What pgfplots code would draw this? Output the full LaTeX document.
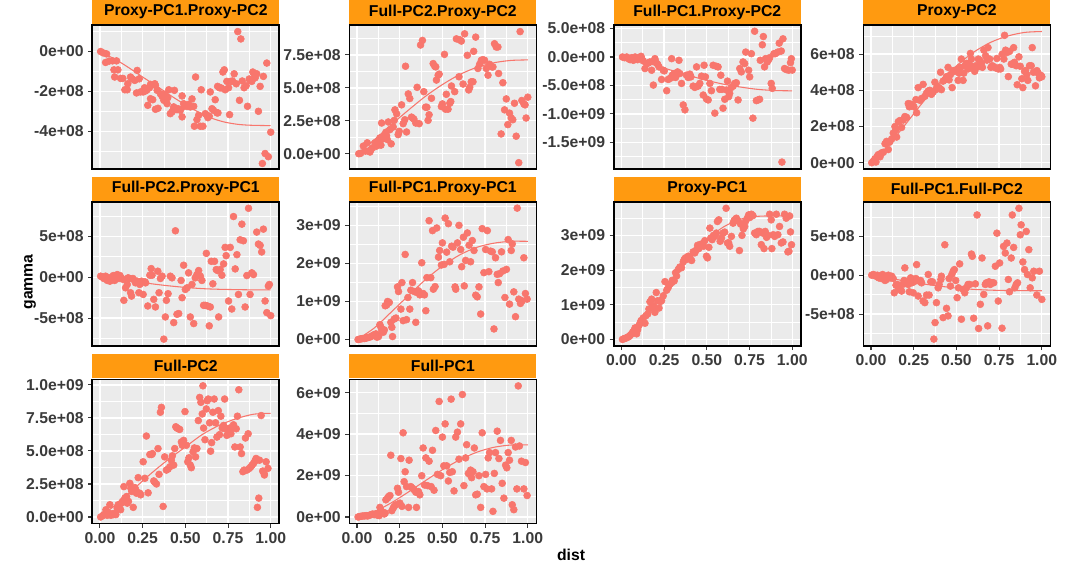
\documentclass[border=0pt]{standalone}
\usepackage{pgfplots}
\pgfplotsset{compat=1.18}
\usepackage{fontspec}
\setmainfont{Liberation Sans}
\definecolor{ptcol}{HTML}{F8766D}
\definecolor{stripcol}{HTML}{FF9A10}
\definecolor{panelbg}{HTML}{EBEBEB}
\definecolor{tickgray}{HTML}{3A3A3A}
\newcommand{\fs}{\fontsize{11.8}{14}\selectfont\bfseries}

\pgfplotsset{
  panel/.style={
    scale only axis, width=140.25pt, height=108.2pt, anchor=north west,
    xmin=-0.045, xmax=1.05,
    axis background/.style={fill=panelbg},
    axis line style={black, line width=1.1pt},
    grid=both,
    major grid style={white, line width=1pt},
    minor grid style={white, line width=0.45pt},
    xtick={0,0.25,0.5,0.75,1},
    minor xtick={0.125,0.375,0.625,0.875},
    tick pos=left, tick align=outside,
    major tick length=3pt, minor tick length=0pt,
    tick style={color=tickgray, line width=0.8pt},
    tick label style={font=\fs, text=tickgray},
    xticklabels={},
    every axis title/.style={at={(0.5,1)}, anchor=south, yshift=0.55pt,
      fill=stripcol, minimum width=140.25pt, minimum height=18pt,
      inner sep=0pt, font=\fs, text=black},
    after end axis/.code={\draw[black, line width=1.2pt] (rel axis cs:0,0) rectangle (rel axis cs:1,1);},
  },
  noxt/.style={xmajorticks=false},
  xlab/.style={xticklabels={0.00,0.25,0.50,0.75,1.00}},
  pts/.style={only marks, mark=*, mark size=2.6pt, color=ptcol},
  fit/.style={no marks, color=ptcol, line width=0.8pt, smooth},
}

\begin{document}
\begin{tikzpicture}
\path[use as bounding box] (0,0) rectangle (799.5pt,-425.25pt);

% Proxy-PC1.Proxy-PC2
\begin{axis}[panel, noxt, at={(69.2pt,-18.75pt)}, title={Proxy-PC1.Proxy-PC2},
  ymin=-5.91, ymax=1.33, ytick={-4,-2,0}, yticklabels={-4e+08,-2e+08,0e+00},
  minor ytick={-5,-3,-1,1}]
\addplot[pts] coordinates {(0.004,0.00)(0.019,-0.07)(0.039,-0.12)(0.033,-0.55)(0.054,-0.48)(0.074,-0.47)(0.097,-0.47)(0.082,-0.92)(0.105,-0.92)(0.086,-1.28)(0.121,-1.35)(0.134,-1.35)(0.146,-1.92)(0.160,-1.92)(0.163,-1.62)(0.179,-1.28)(0.189,-1.38)(0.204,-1.45)(0.218,-0.95)(0.214,-2.08)(0.237,-2.03)(0.230,-1.37)(0.253,-2.03)(0.267,-1.98)(0.276,-1.92)(0.261,-1.82)(0.290,-1.82)(0.296,-1.65)(0.280,-2.70)(0.296,-2.37)(0.309,-2.42)(0.325,-1.70)(0.321,-1.62)(0.335,-1.95)(0.325,-2.90)(0.340,-2.85)(0.354,-2.12)(0.364,-2.25)(0.374,-2.45)(0.379,-2.15)(0.383,-2.42)(0.393,-2.62)(0.397,-2.32)(0.412,-3.12)(0.422,-3.03)(0.428,-2.95)(0.432,-2.78)(0.403,-1.92)(0.436,-1.95)(0.451,-2.92)(0.457,-2.87)(0.481,-3.28)(0.471,-2.95)(0.481,-2.23)(0.490,-2.62)(0.494,-2.75)(0.510,-2.75)(0.519,-2.65)(0.529,-2.78)(0.539,-2.38)(0.549,-2.75)(0.553,-3.75)(0.560,-1.28)(0.568,-3.42)(0.578,-3.20)(0.588,-3.75)(0.593,-1.92)(0.603,-3.75)(0.617,-3.12)(0.626,-3.20)(0.632,-3.32)(0.640,-3.25)(0.646,-2.03)(0.656,-2.87)(0.665,-2.95)(0.675,-2.42)(0.685,-3.08)(0.691,-3.08)(0.689,-1.75)(0.700,-1.82)(0.710,-1.83)(0.720,-1.03)(0.728,-0.92)(0.733,-1.92)(0.743,-1.50)(0.753,-1.82)(0.759,-3.17)(0.767,-1.50)(0.776,-1.48)(0.786,-1.12)(0.798,-1.62)(0.807,1.00)(0.817,-2.45)(0.825,0.63)(0.833,-1.48)(0.844,-1.82)(0.856,-1.72)(0.864,-2.75)(0.874,-1.38)(0.879,-1.45)(0.889,-1.50)(0.895,-1.03)(0.903,-1.12)(0.909,-1.32)(0.918,-1.12)(0.928,-3.00)(0.938,-1.75)(0.951,-5.62)(0.957,-1.25)(0.967,-5.12)(0.977,-0.58)(0.986,-5.28)(1.000,-4.05)};
\addplot[fit] coordinates {(0,0)(0.101,-0.45)(0.179,-0.87)(0.257,-1.32)(0.335,-1.75)(0.412,-2.20)(0.490,-2.62)(0.568,-3.00)(0.646,-3.32)(0.724,-3.53)(0.802,-3.65)(0.879,-3.70)(1.0,-3.72)};
\end{axis}

% Full-PC2.Proxy-PC2
\begin{axis}[panel, noxt, at={(262.0pt,-18.75pt)}, title={Full-PC2.Proxy-PC2},
  ymin=-1.18, ymax=9.77, ytick={0,2.5,5,7.5}, yticklabels={0.0e+00,2.5e+08,5.0e+08,7.5e+08},
  minor ytick={1.25,3.75,6.25,8.75}]
\addplot[pts] coordinates {(0.010,0.00)(0.021,0.03)(0.037,0.58)(0.049,0.20)(0.060,0.83)(0.066,0.20)(0.076,0.13)(0.082,0.33)(0.091,0.45)(0.105,0.83)(0.115,0.58)(0.125,0.95)(0.134,1.20)(0.140,0.65)(0.144,2.33)(0.150,1.13)(0.158,1.33)(0.169,1.63)(0.173,1.38)(0.177,1.08)(0.183,2.41)(0.193,1.83)(0.200,0.75)(0.212,2.03)(0.218,2.53)(0.222,3.33)(0.232,3.03)(0.241,1.45)(0.247,1.70)(0.261,3.71)(0.270,2.28)(0.280,2.58)(0.284,6.64)(0.290,1.65)(0.300,4.54)(0.309,4.19)(0.319,2.78)(0.325,2.71)(0.333,2.63)(0.344,2.33)(0.352,5.04)(0.364,2.28)(0.372,8.25)(0.383,8.60)(0.391,4.71)(0.401,3.53)(0.409,3.53)(0.416,2.53)(0.422,2.96)(0.436,4.21)(0.446,6.84)(0.455,6.64)(0.461,6.59)(0.465,5.59)(0.475,5.96)(0.481,6.04)(0.494,3.58)(0.500,3.78)(0.512,7.54)(0.518,3.38)(0.523,4.51)(0.533,3.38)(0.543,3.83)(0.549,3.96)(0.553,5.14)(0.572,4.71)(0.582,8.72)(0.597,5.84)(0.601,8.65)(0.611,8.55)(0.621,5.29)(0.630,9.10)(0.646,7.47)(0.654,4.84)(0.660,5.04)(0.669,5.46)(0.679,5.46)(0.683,7.77)(0.695,8.85)(0.708,6.47)(0.718,6.79)(0.728,7.09)(0.737,7.14)(0.747,7.09)(0.757,6.47)(0.767,5.96)(0.776,6.79)(0.790,6.59)(0.796,6.59)(0.805,8.35)(0.815,8.10)(0.825,8.10)(0.829,6.09)(0.844,1.50)(0.854,5.39)(0.864,3.33)(0.874,4.16)(0.883,2.21)(0.893,3.08)(0.903,2.71)(0.912,2.58)(0.922,3.83)(0.932,1.33)(0.947,-0.68)(0.955,9.27)(0.965,4.04)(0.977,3.78)(0.984,3.71)(0.990,2.71)(1.000,4.29)};
\addplot[fit] coordinates {(0,0)(0.1,1.05)(0.2,2.2)(0.3,3.3)(0.4,4.35)(0.5,5.25)(0.6,6.0)(0.7,6.55)(0.8,6.9)(0.9,7.08)(1.0,7.12)};
\end{axis}

% Full-PC1.Proxy-PC2
\begin{axis}[panel, noxt, at={(460.3pt,-18.75pt)}, title={Full-PC1.Proxy-PC2},
  ymin=-19.75, ymax=5.63, ytick={-15,-10,-5,0,5},
  yticklabels={-1.5e+09,-1.0e+09,-5.0e+08,0.0e+00,5.0e+08},
  minor ytick={-17.5,-12.5,-7.5,-2.5,2.5}]
\addplot[pts] coordinates {(0.006,0.00)(0.018,-0.12)(0.031,0.00)(0.041,-0.29)(0.051,-0.47)(0.060,-0.12)(0.070,-0.58)(0.080,0.00)(0.086,-0.29)(0.095,-0.47)(0.103,-0.12)(0.115,0.12)(0.119,-0.29)(0.128,-0.70)(0.138,-2.03)(0.148,-1.16)(0.158,-1.05)(0.167,-0.87)(0.177,-2.33)(0.187,-4.94)(0.196,-0.29)(0.202,-0.87)(0.212,-1.28)(0.220,-1.74)(0.235,-3.95)(0.245,-2.33)(0.251,-2.44)(0.265,-5.93)(0.274,-3.95)(0.284,-3.78)(0.294,-0.29)(0.298,-3.20)(0.304,-3.49)(0.309,-2.91)(0.317,-3.60)(0.329,-2.62)(0.337,-0.58)(0.342,-2.91)(0.352,-4.65)(0.362,-8.43)(0.372,-9.30)(0.381,-3.20)(0.391,-3.60)(0.401,-3.02)(0.407,-3.49)(0.420,-5.12)(0.430,-5.35)(0.440,-1.74)(0.449,-5.12)(0.459,-4.65)(0.469,-3.37)(0.479,-6.69)(0.484,-1.45)(0.492,-3.49)(0.498,-7.38)(0.508,-7.56)(0.518,-4.65)(0.527,-5.93)(0.537,-1.45)(0.547,-9.88)(0.556,-1.63)(0.566,-1.74)(0.576,-5.70)(0.582,-3.20)(0.589,-5.70)(0.595,-9.01)(0.605,-7.44)(0.615,-5.81)(0.621,-4.24)(0.628,-6.98)(0.634,-6.40)(0.644,-5.35)(0.654,-5.12)(0.663,-4.65)(0.673,-4.53)(0.683,-7.56)(0.693,-2.03)(0.702,-2.62)(0.712,-0.87)(0.722,-1.16)(0.728,0.87)(0.745,-2.33)(0.751,-3.49)(0.761,0.58)(0.770,-10.76)(0.780,4.53)(0.790,-7.67)(0.800,-7.56)(0.809,-7.44)(0.813,-0.58)(0.825,2.15)(0.831,3.60)(0.838,-1.74)(0.844,-0.29)(0.854,-0.87)(0.862,-0.47)(0.868,-0.12)(0.877,-4.65)(0.883,-5.52)(0.893,0.58)(0.901,0.58)(0.916,0.87)(0.924,2.44)(0.936,1.05)(0.946,3.20)(0.955,-2.03)(0.965,-2.21)(0.979,-2.33)(0.940,-18.49)(0.990,-1.00)(1.000,-2.30)(0.995,-0.30)};
\addplot[fit] coordinates {(0,0)(0.1,-0.6)(0.2,-1.5)(0.3,-2.4)(0.4,-3.3)(0.5,-4.1)(0.6,-4.8)(0.7,-5.3)(0.8,-5.7)(0.9,-5.9)(1.0,-5.95)};
\end{axis}

% Proxy-PC2
\begin{axis}[panel, noxt, at={(647.5pt,-18.75pt)}, title={Proxy-PC2},
  ymin=-0.36, ymax=7.61, ytick={0,2,4,6}, yticklabels={0e+00,2e+08,4e+08,6e+08},
  minor ytick={1,3,5,7}]
\addplot[pts] coordinates {(0.004,0.00)(0.014,0.09)(0.023,0.22)(0.029,0.04)(0.037,0.36)(0.043,0.45)(0.053,0.33)(0.062,0.55)(0.072,0.58)(0.082,1.05)(0.091,1.18)(0.101,0.73)(0.107,1.13)(0.111,1.18)(0.121,1.31)(0.130,1.64)(0.140,2.00)(0.146,1.82)(0.150,1.42)(0.160,2.27)(0.169,2.33)(0.179,1.95)(0.189,2.36)(0.198,2.55)(0.208,2.51)(0.218,3.27)(0.224,3.09)(0.232,3.24)(0.243,3.18)(0.251,3.09)(0.263,3.49)(0.267,2.76)(0.276,4.15)(0.286,3.45)(0.296,3.55)(0.305,4.33)(0.315,3.67)(0.325,3.85)(0.335,3.96)(0.340,3.96)(0.344,4.00)(0.354,3.78)(0.364,3.91)(0.374,4.45)(0.379,4.04)(0.387,4.22)(0.399,4.15)(0.407,5.00)(0.412,4.04)(0.422,4.51)(0.432,4.58)(0.442,4.76)(0.451,5.27)(0.457,4.58)(0.465,4.87)(0.475,4.15)(0.481,5.09)(0.490,5.05)(0.500,5.13)(0.510,4.55)(0.516,4.95)(0.523,5.27)(0.529,5.73)(0.539,4.55)(0.543,4.95)(0.551,5.36)(0.558,5.49)(0.568,5.18)(0.574,5.49)(0.582,6.04)(0.588,5.73)(0.597,5.27)(0.607,5.05)(0.613,5.36)(0.621,5.27)(0.628,5.73)(0.636,5.67)(0.646,5.49)(0.652,5.27)(0.661,6.22)(0.671,5.91)(0.679,5.67)(0.685,6.36)(0.695,5.73)(0.702,5.27)(0.710,5.36)(0.718,5.31)(0.730,5.24)(0.737,5.76)(0.745,5.18)(0.753,5.27)(0.759,5.18)(0.768,6.00)(0.778,5.73)(0.782,7.04)(0.788,6.22)(0.796,6.09)(0.804,4.76)(0.811,6.15)(0.821,5.45)(0.827,5.45)(0.835,6.36)(0.840,5.55)(0.850,5.36)(0.856,4.31)(0.866,5.85)(0.874,5.33)(0.883,4.64)(0.889,4.15)(0.899,5.05)(0.905,5.09)(0.912,4.87)(0.918,4.55)(0.928,5.36)(0.938,5.36)(0.944,6.36)(0.951,5.00)(0.963,4.25)(0.971,5.09)(0.979,4.95)(0.986,4.69)(0.996,4.82)(1.000,4.75)};
\addplot[fit] coordinates {(0,0)(0.1,0.95)(0.2,2.1)(0.3,3.3)(0.4,4.4)(0.5,5.35)(0.6,6.1)(0.7,6.65)(0.8,7.0)(0.9,7.2)(1.0,7.25)};
\end{axis}

% Full-PC2.Proxy-PC1
\begin{axis}[panel, noxt, at={(69.2pt,-151.3pt)}, title={Full-PC2.Proxy-PC1},
  ymin=-8.41, ymax=9.22, ytick={-5,0,5}, yticklabels={-5e+08,0e+00,5e+08},
  minor ytick={-7.5,-2.5,2.5,7.5}]
\addplot[pts] coordinates {(0.004,0.12)(0.014,0.00)(0.023,-0.16)(0.033,0.12)(0.043,-0.40)(0.053,-0.08)(0.058,-0.49)(0.066,-0.20)(0.078,0.20)(0.086,-0.40)(0.091,0.00)(0.101,0.32)(0.111,-0.16)(0.117,0.20)(0.125,-0.08)(0.136,-0.28)(0.140,-2.83)(0.150,-1.30)(0.160,-0.89)(0.165,-0.08)(0.173,-0.16)(0.179,-1.90)(0.185,-2.31)(0.193,-0.16)(0.202,-0.40)(0.208,-0.69)(0.218,-0.49)(0.228,-1.90)(0.233,-0.89)(0.243,-0.49)(0.253,-2.11)(0.263,-0.57)(0.267,-0.69)(0.280,-3.52)(0.292,0.24)(0.300,1.05)(0.305,0.24)(0.315,-2.71)(0.325,-3.64)(0.339,0.73)(0.346,-1.90)(0.354,-0.16)(0.364,0.12)(0.374,-7.57)(0.383,-4.86)(0.389,-2.83)(0.399,-2.02)(0.412,0.12)(0.422,-0.08)(0.432,-5.55)(0.442,5.67)(0.451,-4.53)(0.461,-4.45)(0.475,-0.40)(0.481,-2.51)(0.490,1.46)(0.500,-1.50)(0.510,-1.30)(0.519,0.53)(0.529,-4.86)(0.539,-0.89)(0.549,-5.67)(0.558,-0.08)(0.568,0.32)(0.578,0.81)(0.588,0.12)(0.597,-0.40)(0.607,-3.44)(0.617,-3.44)(0.623,2.91)(0.630,-3.52)(0.640,-5.95)(0.646,-3.64)(0.652,1.94)(0.661,-0.81)(0.671,1.94)(0.681,0.93)(0.689,0.81)(0.695,-4.86)(0.704,0.93)(0.714,0.24)(0.724,1.62)(0.733,3.64)(0.739,2.63)(0.753,-2.91)(0.763,3.64)(0.772,-3.89)(0.782,7.41)(0.792,1.01)(0.802,2.75)(0.811,-2.11)(0.821,4.57)(0.831,6.48)(0.840,4.45)(0.850,-3.64)(0.860,0.20)(0.870,8.42)(0.879,-2.11)(0.889,0.53)(0.899,0.32)(0.918,5.51)(0.928,4.05)(0.938,3.89)(0.947,3.08)(0.957,5.87)(0.967,-2.91)(0.977,-4.33)(0.986,-1.09)(1.000,-4.70)(0.992,-0.89)};
\addplot[fit] coordinates {(0,0)(0.1,-0.2)(0.2,-0.5)(0.3,-0.8)(0.4,-1.05)(0.5,-1.25)(0.6,-1.4)(0.7,-1.48)(0.8,-1.52)(0.9,-1.55)(1.0,-1.55)};
\end{axis}

% Full-PC1.Proxy-PC1
\begin{axis}[panel, noxt, at={(262.0pt,-151.3pt)}, title={Full-PC1.Proxy-PC1},
  ymin=-0.17, ymax=3.62, ytick={0,1,2,3}, yticklabels={0e+00,1e+09,2e+09,3e+09},
  minor ytick={0.5,1.5,2.5,3.5}]
\addplot[pts] coordinates {(0.006,0.000)(0.014,0.009)(0.023,0.017)(0.033,0.026)(0.043,0.026)(0.049,0.035)(0.056,0.043)(0.064,0.052)(0.072,0.061)(0.082,0.078)(0.091,0.104)(0.101,0.130)(0.111,0.148)(0.117,0.061)(0.126,0.078)(0.134,0.391)(0.140,0.322)(0.146,0.235)(0.154,0.191)(0.160,0.252)(0.165,0.887)(0.173,0.904)(0.179,1.000)(0.189,0.974)(0.198,0.452)(0.204,0.322)(0.208,0.078)(0.218,0.539)(0.228,0.565)(0.237,1.383)(0.243,1.261)(0.257,0.800)(0.263,1.496)(0.270,0.496)(0.282,2.235)(0.290,0.522)(0.298,1.104)(0.309,0.800)(0.315,1.296)(0.325,1.496)(0.335,1.261)(0.344,0.452)(0.350,1.235)(0.360,1.278)(0.368,1.174)(0.379,2.017)(0.387,1.209)(0.395,1.174)(0.403,0.757)(0.409,1.626)(0.422,3.122)(0.432,1.626)(0.442,2.861)(0.447,1.322)(0.457,1.391)(0.467,2.930)(0.477,2.165)(0.484,2.339)(0.494,1.957)(0.500,2.539)(0.510,1.974)(0.516,3.191)(0.525,2.296)(0.535,3.043)(0.543,2.043)(0.554,2.452)(0.562,2.426)(0.574,1.383)(0.578,1.322)(0.588,2.539)(0.597,3.000)(0.607,2.365)(0.613,1.913)(0.623,2.687)(0.628,1.409)(0.636,2.078)(0.646,2.800)(0.656,2.478)(0.665,2.043)(0.675,2.600)(0.685,2.339)(0.695,1.165)(0.704,1.122)(0.714,1.383)(0.724,0.670)(0.733,2.913)(0.743,1.757)(0.753,2.365)(0.763,2.861)(0.772,1.783)(0.782,2.322)(0.792,2.304)(0.802,0.278)(0.811,2.148)(0.821,1.713)(0.827,1.496)(0.835,1.730)(0.846,2.304)(0.854,1.800)(0.866,1.104)(0.875,1.843)(0.885,2.626)(0.893,0.930)(0.903,2.339)(0.909,2.513)(0.918,1.252)(0.928,0.600)(0.938,3.452)(0.947,1.061)(0.957,0.948)(0.967,1.017)(0.977,2.148)(0.986,1.209)(0.996,1.061)};
\addplot[fit] coordinates {(0,0)(0.1,0.3)(0.2,0.72)(0.3,1.15)(0.4,1.57)(0.5,1.93)(0.6,2.22)(0.7,2.42)(0.8,2.53)(0.9,2.58)(1.0,2.58)};
\end{axis}

% Proxy-PC1
\begin{axis}[panel, xlab, at={(460.3pt,-151.3pt)}, title={Proxy-PC1},
  ymin=-0.19, ymax=3.97, ytick={0,1,2,3}, yticklabels={0e+00,1e+09,2e+09,3e+09},
  minor ytick={0.5,1.5,2.5,3.5}]
\addplot[pts] coordinates {(0.006,0.000)(0.014,0.019)(0.021,0.029)(0.031,0.048)(0.037,0.067)(0.045,0.086)(0.051,0.114)(0.060,0.162)(0.066,0.210)(0.074,0.257)(0.080,0.333)(0.089,0.162)(0.095,0.276)(0.103,0.400)(0.109,0.467)(0.115,0.543)(0.123,0.495)(0.128,0.619)(0.138,0.467)(0.144,0.686)(0.154,0.733)(0.161,0.876)(0.167,1.086)(0.177,1.162)(0.181,0.943)(0.189,0.971)(0.196,0.781)(0.204,1.352)(0.212,1.114)(0.220,0.905)(0.228,1.095)(0.235,1.114)(0.245,1.257)(0.255,1.667)(0.265,1.419)(0.274,1.495)(0.284,1.590)(0.294,1.638)(0.298,1.705)(0.309,1.686)(0.317,1.924)(0.323,1.829)(0.333,2.019)(0.342,2.086)(0.352,2.067)(0.362,2.238)(0.368,2.305)(0.375,2.352)(0.381,2.305)(0.391,2.400)(0.401,2.371)(0.411,2.276)(0.420,2.524)(0.430,2.495)(0.440,2.590)(0.446,2.714)(0.453,2.619)(0.459,2.733)(0.469,2.752)(0.475,2.714)(0.481,2.686)(0.488,2.848)(0.498,2.400)(0.504,2.352)(0.512,2.657)(0.518,3.210)(0.523,2.924)(0.531,2.876)(0.539,3.000)(0.547,2.971)(0.556,3.067)(0.562,3.400)(0.570,3.448)(0.578,2.829)(0.586,2.924)(0.595,3.067)(0.605,3.095)(0.613,3.781)(0.621,2.781)(0.628,2.781)(0.634,2.686)(0.644,2.971)(0.654,3.352)(0.660,3.419)(0.663,3.448)(0.673,3.495)(0.683,3.419)(0.691,2.562)(0.698,3.324)(0.706,3.000)(0.714,3.190)(0.722,3.257)(0.728,3.419)(0.737,3.495)(0.745,3.590)(0.751,3.514)(0.761,3.610)(0.770,3.571)(0.780,3.067)(0.790,3.019)(0.800,3.114)(0.809,3.114)(0.819,2.733)(0.827,3.067)(0.835,2.619)(0.842,3.114)(0.850,2.943)(0.858,3.000)(0.868,3.610)(0.877,3.448)(0.881,2.619)(0.889,3.019)(0.897,2.971)(0.907,3.610)(0.916,3.019)(0.926,3.257)(0.936,2.781)(0.946,2.810)(0.955,3.610)(0.965,3.495)(0.975,2.524)(0.981,2.543)(0.990,3.100)(0.996,2.730)(0.985,3.560)};
\addplot[fit] coordinates {(0,0)(0.1,0.45)(0.2,1.05)(0.3,1.7)(0.4,2.35)(0.5,2.88)(0.6,3.25)(0.7,3.47)(0.8,3.55)(0.9,3.56)(1.0,3.56)};
\end{axis}

% Full-PC1.Full-PC2
\begin{axis}[panel, xlab, at={(647.5pt,-151.3pt)}, title={Full-PC1.Full-PC2},
  ymin=-9.1, ymax=9.44, ytick={-5,0,5}, yticklabels={-5e+08,0e+00,5e+08},
  minor ytick={-7.5,-2.5,2.5,7.5}]
\addplot[pts] coordinates {(0.004,0.00)(0.014,0.09)(0.023,-0.04)(0.029,-0.13)(0.037,0.00)(0.045,-0.34)(0.053,-0.13)(0.060,-0.43)(0.068,0.09)(0.076,-0.13)(0.082,-0.68)(0.091,-0.55)(0.101,0.00)(0.107,-0.26)(0.115,-0.34)(0.121,-0.13)(0.130,-0.43)(0.136,-2.26)(0.146,-1.28)(0.154,-1.19)(0.160,-1.62)(0.169,-1.83)(0.179,-2.04)(0.185,-1.19)(0.193,-0.68)(0.198,0.94)(0.204,-0.77)(0.212,-0.98)(0.218,-1.19)(0.224,-2.13)(0.232,-0.34)(0.239,-0.98)(0.247,-2.26)(0.251,-0.85)(0.257,-0.55)(0.263,-0.43)(0.267,1.36)(0.276,-2.68)(0.282,-0.77)(0.290,-0.68)(0.296,-0.98)(0.305,-3.32)(0.315,-3.53)(0.325,-2.55)(0.335,0.09)(0.340,-2.55)(0.350,-0.85)(0.360,-0.85)(0.368,-8.21)(0.375,-6.09)(0.383,-3.53)(0.393,-1.62)(0.399,-1.19)(0.409,-0.55)(0.412,-0.13)(0.422,-5.45)(0.432,3.91)(0.442,-4.26)(0.451,-5.23)(0.457,-0.43)(0.465,-1.40)(0.473,0.09)(0.481,0.51)(0.488,0.72)(0.496,-0.68)(0.504,-2.89)(0.512,-1.62)(0.519,1.45)(0.529,-5.66)(0.539,-1.83)(0.549,-2.26)(0.558,-1.62)(0.568,-1.19)(0.578,-1.19)(0.588,2.72)(0.593,2.43)(0.601,-5.53)(0.611,-1.11)(0.621,7.74)(0.630,-6.85)(0.640,-3.74)(0.650,2.21)(0.660,-2.47)(0.669,-1.19)(0.675,-0.98)(0.683,-6.51)(0.691,-0.85)(0.698,-1.19)(0.708,-0.98)(0.718,-0.98)(0.728,1.15)(0.737,5.40)(0.745,-3.32)(0.753,1.57)(0.767,-6.81)(0.776,3.70)(0.786,2.85)(0.796,4.13)(0.804,-0.55)(0.811,-2.13)(0.821,2.21)(0.827,7.74)(0.835,3.57)(0.842,-1.62)(0.850,-1.19)(0.858,-0.98)(0.866,8.60)(0.874,5.19)(0.879,6.47)(0.889,1.70)(0.899,0.72)(0.909,5.62)(0.916,0.09)(0.924,3.28)(0.932,-1.62)(0.944,-0.34)(0.953,0.51)(0.971,-2.55)(0.986,0.51)(1.000,-3.11)};
\addplot[fit] coordinates {(0,0)(0.1,-0.35)(0.2,-0.75)(0.3,-1.1)(0.4,-1.4)(0.5,-1.65)(0.6,-1.82)(0.7,-1.92)(0.8,-1.97)(0.9,-1.99)(1.0,-2.0)};
\end{axis}

% Full-PC2
\begin{axis}[panel, xlab, at={(69.2pt,-284.5pt)}, title={Full-PC2},
  ymin=-0.5, ymax=10.42, ytick={0,2.5,5,7.5,10},
  yticklabels={0.0e+00,2.5e+08,5.0e+08,7.5e+08,1.0e+09},
  minor ytick={1.25,3.75,6.25,8.75}]
\addplot[pts] coordinates {(0.004,0.00)(0.016,0.10)(0.023,0.18)(0.035,0.55)(0.043,0.13)(0.051,0.30)(0.058,0.93)(0.064,0.13)(0.070,0.23)(0.078,0.18)(0.088,0.30)(0.093,0.18)(0.101,0.68)(0.107,0.93)(0.113,0.88)(0.121,0.55)(0.126,1.05)(0.132,1.18)(0.140,2.30)(0.146,1.43)(0.156,1.55)(0.160,1.05)(0.167,1.18)(0.175,2.55)(0.181,2.18)(0.187,1.93)(0.195,0.73)(0.204,2.23)(0.210,2.05)(0.214,1.80)(0.224,2.98)(0.233,1.80)(0.239,1.68)(0.253,4.18)(0.263,2.93)(0.272,6.13)(0.282,1.83)(0.292,4.73)(0.302,4.73)(0.307,4.80)(0.315,2.73)(0.321,2.63)(0.331,2.50)(0.340,5.18)(0.346,3.23)(0.354,7.93)(0.360,8.30)(0.370,0.80)(0.379,4.55)(0.389,3.55)(0.399,3.63)(0.409,3.80)(0.418,4.30)(0.424,4.63)(0.432,3.93)(0.438,5.18)(0.444,6.83)(0.451,6.73)(0.459,6.68)(0.467,6.63)(0.477,5.68)(0.482,5.43)(0.490,5.80)(0.498,7.98)(0.506,5.43)(0.514,4.18)(0.521,4.48)(0.529,3.93)(0.535,3.73)(0.545,4.93)(0.553,5.23)(0.560,4.55)(0.568,5.18)(0.576,7.30)(0.584,9.05)(0.591,8.68)(0.599,7.80)(0.603,9.93)(0.607,6.73)(0.615,5.85)(0.623,8.18)(0.628,8.80)(0.634,8.93)(0.642,7.13)(0.648,4.98)(0.654,5.63)(0.661,7.93)(0.669,8.93)(0.677,7.13)(0.685,6.05)(0.693,8.05)(0.700,6.23)(0.708,7.63)(0.716,6.73)(0.724,6.93)(0.730,8.93)(0.735,6.68)(0.743,6.18)(0.751,6.55)(0.759,6.73)(0.767,6.30)(0.774,6.73)(0.782,6.98)(0.790,5.30)(0.798,6.68)(0.805,7.63)(0.813,9.63)(0.821,5.30)(0.829,4.80)(0.837,3.43)(0.844,3.55)(0.852,5.98)(0.860,3.55)(0.868,6.30)(0.875,3.68)(0.883,3.80)(0.891,3.93)(0.899,4.05)(0.907,4.23)(0.914,4.43)(0.922,0.73)(0.930,1.43)(0.934,4.30)(0.944,7.68)(0.953,3.48)(0.963,3.18)(0.973,4.18)(0.984,3.68)(0.961,3.30)};
\addplot[fit] coordinates {(0,0)(0.1,1.0)(0.2,2.15)(0.3,3.3)(0.4,4.35)(0.5,5.3)(0.6,6.25)(0.7,6.95)(0.8,7.45)(0.9,7.78)(1.0,7.85)};
\end{axis}

% Full-PC1
\begin{axis}[panel, xlab, at={(262.0pt,-284.5pt)}, title={Full-PC1},
  ymin=-0.32, ymax=6.64, ytick={0,2,4,6}, yticklabels={0e+00,2e+09,4e+09,6e+09},
  minor ytick={1,3,5}]
\addplot[pts] coordinates {(0.006,0.000)(0.014,0.016)(0.023,0.032)(0.033,0.048)(0.043,0.048)(0.053,0.064)(0.062,0.048)(0.072,0.080)(0.082,0.111)(0.091,0.143)(0.101,0.111)(0.111,0.159)(0.121,0.080)(0.130,0.064)(0.134,0.462)(0.140,0.303)(0.150,0.239)(0.160,0.143)(0.165,0.191)(0.169,0.828)(0.179,0.908)(0.185,0.987)(0.193,1.035)(0.198,2.978)(0.204,0.303)(0.212,0.430)(0.218,0.510)(0.228,0.589)(0.237,1.385)(0.243,1.194)(0.251,0.669)(0.257,2.818)(0.263,0.510)(0.270,4.061)(0.276,1.704)(0.282,2.182)(0.290,1.465)(0.302,0.462)(0.305,2.739)(0.315,1.465)(0.325,1.385)(0.335,1.306)(0.344,1.194)(0.348,0.462)(0.360,1.226)(0.368,1.067)(0.379,1.990)(0.387,3.328)(0.395,1.545)(0.403,2.850)(0.412,1.513)(0.422,2.691)(0.434,1.465)(0.442,3.217)(0.451,1.290)(0.461,4.172)(0.471,2.054)(0.481,5.573)(0.490,1.990)(0.500,3.854)(0.508,2.468)(0.516,4.490)(0.525,2.468)(0.535,1.736)(0.543,2.150)(0.551,5.685)(0.558,2.182)(0.568,1.258)(0.578,3.854)(0.588,4.092)(0.597,2.787)(0.607,4.490)(0.617,5.908)(0.626,1.513)(0.636,2.850)(0.642,3.487)(0.652,2.102)(0.660,2.054)(0.665,2.261)(0.671,1.895)(0.679,2.182)(0.687,3.328)(0.695,1.067)(0.704,1.099)(0.714,1.990)(0.724,0.462)(0.733,4.061)(0.743,1.465)(0.753,2.054)(0.761,1.354)(0.768,2.850)(0.776,3.105)(0.788,1.354)(0.796,0.271)(0.804,2.102)(0.811,3.105)(0.821,4.140)(0.831,2.818)(0.840,3.694)(0.850,1.624)(0.860,0.908)(0.870,2.500)(0.877,2.373)(0.885,3.105)(0.893,2.739)(0.903,3.694)(0.909,0.589)(0.918,0.350)(0.928,3.376)(0.936,1.354)(0.944,6.322)(0.951,3.424)(0.963,2.691)(0.977,1.354)(0.986,2.627)(0.996,1.035)};
\addplot[fit] coordinates {(0,0)(0.1,0.25)(0.2,0.68)(0.3,1.2)(0.4,1.75)(0.5,2.28)(0.6,2.75)(0.7,3.12)(0.8,3.36)(0.9,3.47)(1.0,3.48)};
\end{axis}

\node[rotate=90, font=\fs] at (22.5pt,-211.5pt) {gamma};
\node[font=\fs] at (428.25pt,-416.25pt) {dist};
\end{tikzpicture}
\end{document}
